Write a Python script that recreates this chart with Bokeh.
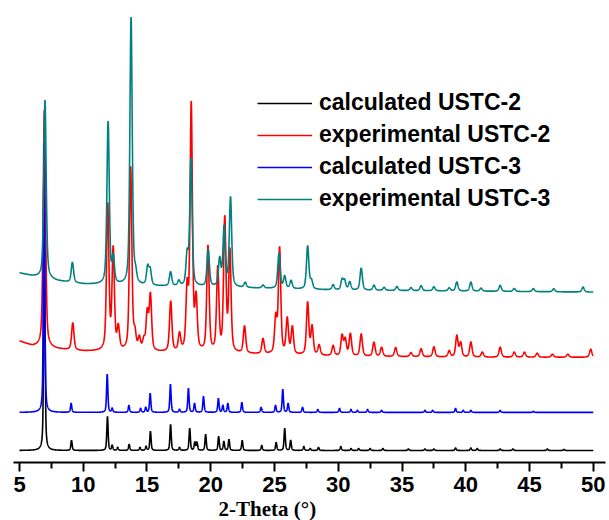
import numpy as np
from bokeh.plotting import figure
from bokeh.models import (Range1d, LinearAxis, FixedTicker, Legend, LegendItem,
                          Title, ColumnDataSource)
from bokeh.embed import file_html
from bokeh.resources import INLINE

# ---- axis ticks -------------------------------------------------------------
major_ticks = [5, 10, 15, 20, 25, 30, 35, 40, 45, 50]
minor_ticks = [7.5, 12.5, 17.5, 22.5, 27.5, 32.5, 37.5, 42.5, 47.5]

series_names = ["calculated USTC-2", "experimental USTC-2",
                "calculated USTC-3", "experimental USTC-3"]
series_colors = ["#000000", "#ff0000", "#0000ff", "#008080"]

# ---- peak lists (2-theta, intensity above background, a.u.) -------------------
calc2_pos = [6.95, 9.08, 11.9, 12.27, 12.7, 13.6, 14.45, 14.93, 15.27, 16.85,
             17.55, 18.35, 18.75, 18.92, 19.6, 20.62, 21.03, 21.43, 22.47, 24.0,
             25.13, 25.8, 26.27, 27.3, 27.8, 28.45, 30.2, 31.0, 31.6, 32.5,
             33.5, 35.5, 36.8, 37.5, 39.2, 40.4, 40.9, 42.7, 43.7, 46.4, 47.7]
calc2_int = [250, 10, 34, 5, 3, 6, 3, 4, 19, 26,
             3, 22, 8, 8, 16, 14, 9, 11, 10, 5,
             8, 22, 10, 4, 2, 3, 4, 2, 2, 2,
             2, 1.5, 1.5, 1.5, 2.5, 2.5, 2, 1.5, 1.5, 1.5, 1]
calc2_bg_x = [5, 50]
calc2_bg_y = [12, 12]

calc3_pos = [6.93, 9.05, 11.88, 12.27, 13.58, 14.5, 14.9, 15.25, 16.84, 17.55,
             18.25, 18.73, 19.43, 20.6, 20.95, 21.34, 22.44, 23.95, 25.08, 25.65,
             26.07, 27.2, 28.4, 30.1, 31.0, 31.5, 32.3, 33.4, 36.8, 37.4,
             39.2, 39.8, 40.4, 42.7, 45.3]
calc3_int = [269, 9, 38, 4, 7, 4, 5, 19, 28, 3,
             24, 9, 16, 14, 7, 9, 10, 5, 7, 23,
             9, 5, 3, 4, 3, 2, 3, 2, 2, 2,
             4, 2, 2, 2, 1]
calc3_bg_x = [5, 50]
calc3_bg_y = [50, 50]

exp2_pos = [6.95, 9.18, 11.92, 12.35, 12.75, 13.72, 14.05, 14.4, 14.75, 15.02,
            15.27, 16.86, 17.55, 18.15, 18.47, 18.85, 19.78, 20.55, 21.1, 21.5,
            22.65, 24.1, 25.1, 25.4, 26.0, 26.4, 27.6, 27.95, 28.5, 29.6,
            30.3, 30.55, 30.95, 31.8, 32.8, 33.4, 34.5, 35.7, 36.5, 37.5,
            38.7, 39.3, 39.6, 40.4, 41.3, 42.7, 43.8, 44.6, 45.6, 46.8,
            48.0, 49.8]
exp2_int = [237, 27, 145, 100, 22, 183, 15, 12, 10, 37,
            55, 50, 17, 60, 245, 50, 105, 83, 132, 100,
            27, 15, 35, 105, 35, 27, 52, 28, 10, 10,
            20, 16, 22, 22, 14, 9, 9, 4, 8, 10,
            6, 21, 14, 15, 5, 10, 5, 5, 4, 3,
            3, 8]
exp2_bg_x = [5, 6, 8, 10, 20, 30, 40, 50]
exp2_bg_y = [121, 116, 113, 111, 109, 106, 105, 105]

exp3_pos = [7.0, 9.15, 11.95, 12.35, 13.75, 14.1, 15.05, 15.25, 16.85, 17.5,
            18.15, 18.45, 19.8, 20.7, 21.05, 21.55, 22.7, 24.1, 25.35, 25.8,
            26.3, 27.6, 27.9, 29.6, 30.3, 30.5, 30.9, 31.8, 32.8, 33.6,
            34.6, 35.7, 36.5, 37.5, 38.7, 39.3, 40.4, 41.2, 42.7, 43.8,
            45.3, 46.9, 49.2]
exp3_int = [178, 20, 162, 25, 267, 9, 18, 15, 14, 5,
            30, 126, 37, 27, 59, 89, 5, 3, 35, 12,
            8, 43, 8, 5, 10, 9, 8, 22, 5, 3,
            4, 3, 5, 4, 3, 9, 9, 3, 6, 3,
            3, 3, 5]
exp3_bg_x = [5, 6, 8, 10, 15, 20, 30, 40, 50]
exp3_bg_y = [189, 186, 181, 178, 176, 175, 172, 171, 170]

calc_fwhm = 0.12
exp_fwhm = 0.22


def pattern(x, pos, inten, fwhm, bg_x, bg_y, eta=0.5):
    """Pseudo-Voigt peaks summed on top of a piecewise-linear background."""
    y = np.interp(x, bg_x, bg_y).astype(float)
    for c, h in zip(pos, inten):
        d = (x - c) / (fwhm / 2.0)
        y += h * (eta / (1.0 + d * d) + (1 - eta) * np.exp(-np.log(2) * d * d))
    return y


tt = np.arange(5.0, 50.0001, 0.01)
curves = [
    pattern(tt, calc2_pos, calc2_int, calc_fwhm, calc2_bg_x, calc2_bg_y),
    pattern(tt, exp2_pos, exp2_int, exp_fwhm, exp2_bg_x, exp2_bg_y),
    pattern(tt, calc3_pos, calc3_int, calc_fwhm, calc3_bg_x, calc3_bg_y),
    pattern(tt, exp3_pos, exp3_int, exp_fwhm, exp3_bg_x, exp3_bg_y),
]

p = figure(width=609, height=520,
           x_range=Range1d(4.53, 50.96), y_range=Range1d(0, 461),
           output_backend="svg", toolbar_location=None,
           x_axis_location=None, y_axis_location=None,
           min_border_left=13, min_border_right=4,
           min_border_top=0, min_border_bottom=0)
p.outline_line_color = None
p.background_fill_color = "white"
p.border_fill_color = "white"
for g in p.grid:
    g.visible = False

items = []
for name, color, yy in zip(series_names, series_colors, curves):
    src = ColumnDataSource(dict(x=tt, y=yy))
    r = p.line("x", "y", source=src, line_color=color, line_width=1.6)
    items.append(LegendItem(label=name, renderers=[r]))

ax = LinearAxis(ticker=FixedTicker(ticks=major_ticks, minor_ticks=minor_ticks))
ax.axis_line_width = 2
ax.axis_line_color = "black"
ax.major_tick_line_width = 2
ax.minor_tick_line_width = 2
ax.major_tick_out = 9
ax.major_tick_in = 0
ax.minor_tick_out = 6
ax.minor_tick_in = 0
ax.major_label_text_font = "Liberation Sans"
ax.major_label_text_font_style = "bold"
ax.major_label_text_font_size = "22px"
ax.major_label_text_color = "black"
ax.major_label_standoff = 5
p.add_layout(ax, "below")

# x-axis title, set a little left of the frame centre
p.add_layout(Title(text="2-Theta (\u00b0)", text_font="Liberation Serif",
                   text_font_style="bold", text_font_size="21px",
                   text_color="black", align="left", offset=205,
                   standoff=0), "below")

legend = Legend(items=items, location=(244, 250))
legend.label_text_font = "Liberation Sans"
legend.label_text_font_style = "bold"
legend.label_text_font_size = "23px"
legend.label_text_color = "black"
legend.glyph_width = 55
legend.glyph_height = 24
legend.label_height = 24
legend.label_standoff = 7
legend.spacing = 5
legend.padding = 0
legend.margin = 0
legend.border_line_color = None
legend.background_fill_alpha = 0
p.add_layout(legend, "center")

open("out.html", "w").write(file_html(p, INLINE))
